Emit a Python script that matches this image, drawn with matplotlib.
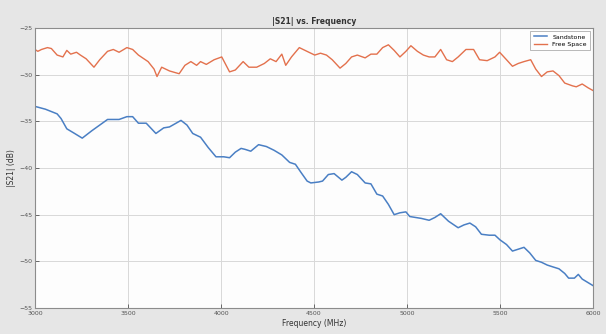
import matplotlib.pyplot as plt

# Free Space trace (MHz, dB)
fs_freq = [3000, 3015, 3035, 3067, 3088, 3119, 3150, 3171, 3192, 3223, 3244, 3275,
           3317, 3348, 3390, 3421, 3452, 3494, 3525, 3556, 3608, 3640, 3656, 3681,
           3723, 3775, 3806, 3838, 3869, 3890, 3921, 3963, 4004, 4046, 4077, 4119,
           4150, 4192, 4233, 4265, 4296, 4327, 4348, 4379, 4421, 4452, 4483, 4504,
           4535, 4567, 4598, 4640, 4671, 4702, 4733, 4775, 4806, 4838, 4869, 4900,
           4931, 4962, 4994, 5021, 5056, 5088, 5119, 5150, 5181, 5213, 5244, 5275,
           5317, 5358, 5390, 5431, 5473, 5498, 5535, 5567, 5598, 5629, 5665, 5692,
           5723, 5754, 5785, 5817, 5848, 5890, 5910, 5942, 5973, 6000]
fs_db = [-27.3, -27.5, -27.3, -27.1, -27.2, -27.9, -28.1, -27.4, -27.8, -27.6, -27.9, -28.3,
         -29.2, -28.4, -27.5, -27.3, -27.6, -27.1, -27.3, -27.9, -28.6, -29.4, -30.2, -29.2,
         -29.6, -29.9, -29.0, -28.6, -29.0, -28.6, -28.9, -28.4, -28.1, -29.7, -29.5, -28.6,
         -29.2, -29.2, -28.8, -28.3, -28.6, -27.8, -29.0, -28.1, -27.1, -27.4, -27.7, -27.9,
         -27.7, -27.9, -28.4, -29.3, -28.8, -28.1, -27.9, -28.2, -27.8, -27.8, -27.1, -26.8,
         -27.4, -28.1, -27.5, -26.9, -27.5, -27.9, -28.1, -28.1, -27.3, -28.4, -28.6, -28.1,
         -27.3, -27.3, -28.4, -28.5, -28.1, -27.6, -28.4, -29.1, -28.8, -28.6, -28.4, -29.4,
         -30.2, -29.7, -29.6, -30.1, -30.9, -31.2, -31.3, -31.0, -31.4, -31.7]

# Sandstone trace (MHz, dB)
ss_freq = [3000, 3056, 3119, 3140, 3171, 3213, 3254, 3306, 3348, 3390, 3452, 3494,
           3525, 3556, 3598, 3650, 3692, 3723, 3785, 3817, 3848, 3890, 3931, 3973,
           4015, 4046, 4077, 4108, 4129, 4160, 4202, 4244, 4285, 4327, 4369, 4400,
           4431, 4463, 4483, 4525, 4546, 4577, 4608, 4650, 4671, 4702, 4733, 4775,
           4806, 4838, 4869, 4900, 4931, 4962, 4994, 5015, 5046, 5077, 5119, 5150,
           5181, 5223, 5275, 5306, 5338, 5369, 5400, 5442, 5473, 5500, 5535, 5567,
           5598, 5629, 5660, 5692, 5723, 5754, 5785, 5817, 5848, 5869, 5900, 5921,
           5942, 6000]
ss_db = [-33.4, -33.7, -34.2, -34.7, -35.8, -36.3, -36.8, -36.0, -35.4, -34.8, -34.8, -34.5,
         -34.5, -35.2, -35.2, -36.3, -35.7, -35.6, -34.9, -35.4, -36.3, -36.7, -37.8, -38.8,
         -38.8, -38.9, -38.3, -37.9, -38.0, -38.2, -37.5, -37.7, -38.1, -38.6, -39.4, -39.6,
         -40.5, -41.4, -41.6, -41.5, -41.4, -40.7, -40.6, -41.3, -41.0, -40.4, -40.7, -41.6,
         -41.7, -42.8, -43.0, -43.9, -45.0, -44.8, -44.7, -45.2, -45.3, -45.4, -45.6, -45.3,
         -44.9, -45.7, -46.4, -46.1, -45.9, -46.3, -47.1, -47.2, -47.2, -47.7, -48.2, -48.9,
         -48.7, -48.5, -49.1, -49.9, -50.1, -50.4, -50.6, -50.8, -51.3, -51.8, -51.8, -51.4,
         -51.9, -52.6]

x_ticks = [3000, 3500, 4000, 4500, 5000, 5500, 6000]
y_ticks = [-55, -50, -45, -40, -35, -30, -25]

fig = plt.figure(figsize=(6.06, 3.34), dpi=100, facecolor='#e6e6e6')
ax = fig.add_axes([35 / 606, 26 / 334, 558 / 606, 280 / 334])
ax.set_facecolor('#fdfdfd')

ax.plot(ss_freq, ss_db, color='#4a7fc4', linewidth=1.1, label='Sandstone')
ax.plot(fs_freq, fs_db, color='#e3714d', linewidth=1.0, label='Free Space')

ax.set_xlim(3000, 6000)
ax.set_ylim(-55, -25)
ax.set_xticks(x_ticks)
ax.set_yticks(y_ticks)
ax.tick_params(direction='in', labelsize=4.5, colors='#555555', length=3, width=0.6, pad=2)
ax.grid(True, color='#d8d8d8', linewidth=0.7)
for s in ax.spines.values():
    s.set_color('#8c8c8c')
    s.set_linewidth(0.8)

ax.set_title('|S21| vs. Frequency', fontsize=5.5, fontweight='bold', color='#333333', pad=3)
ax.set_xlabel('Frequency (MHz)', fontsize=5.5, color='#333333', labelpad=2)
ax.set_ylabel('|S21| (dB)', fontsize=5.5, color='#333333', labelpad=2)

leg = ax.legend(loc='upper right', fontsize=4.5, frameon=True, fancybox=False,
                edgecolor='#999999', handlelength=2.2, borderpad=0.5, labelspacing=0.3)
leg.get_frame().set_linewidth(0.6)

fig.savefig('out.png', dpi=100, facecolor=fig.get_facecolor())
